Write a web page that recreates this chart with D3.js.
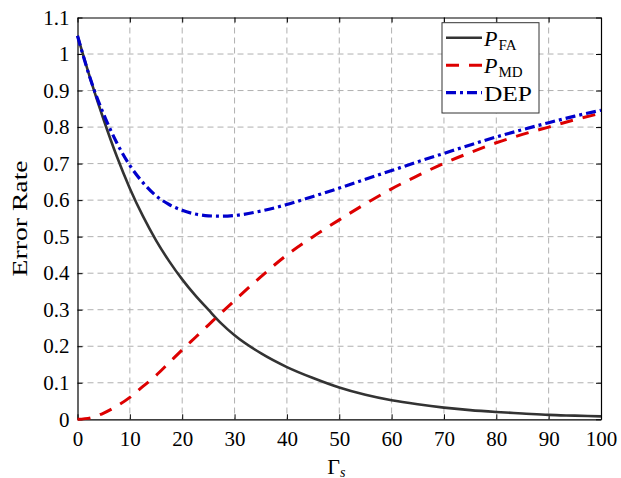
<!DOCTYPE html>
<html>
<head>
<meta charset="utf-8">
<script src="https://cdn.jsdelivr.net/npm/d3@7"></script>
<style>
  body { margin: 0; background: #fff; }
  text { font-family: "Liberation Serif", "Times New Roman", serif; fill: #000; }
</style>
</head>
<body>
<div id="wrapper"></div>
<script>
// data
const gammaValues = [0, 2.5, 5, 7.5, 10, 12.5, 15, 17.5, 20, 22.5, 25, 27.5, 30, 35, 40, 45, 50, 55, 60, 65, 70, 75, 80, 85, 90, 95, 100];
const pFA = [1.05, 0.93, 0.82, 0.72, 0.632, 0.556, 0.49, 0.433, 0.383, 0.339, 0.3, 0.262, 0.23, 0.181, 0.143, 0.113, 0.087, 0.067, 0.052, 0.041, 0.032, 0.025, 0.02, 0.016, 0.012, 0.01, 0.008];
const pMD = [0, 0.004, 0.017, 0.036, 0.06, 0.09, 0.12, 0.155, 0.19, 0.224, 0.258, 0.292, 0.325, 0.39, 0.45, 0.5, 0.546, 0.59, 0.631, 0.667, 0.701, 0.73, 0.757, 0.78, 0.8, 0.82, 0.838];
const dep = [1.05, 0.93, 0.835, 0.757, 0.695, 0.648, 0.612, 0.588, 0.572, 0.562, 0.557, 0.556, 0.558, 0.57, 0.588, 0.61, 0.633, 0.657, 0.681, 0.705, 0.728, 0.751, 0.773, 0.793, 0.812, 0.83, 0.846];

const xTicks = [0, 10, 20, 30, 40, 50, 60, 70, 80, 90, 100];
const yTicks = [0, 0.1, 0.2, 0.3, 0.4, 0.5, 0.6, 0.7, 0.8, 0.9, 1, 1.1];

const seriesList = [
  { name: "FA", values: pFA, color: "#333333", width: 2.6, dash: null },
  { name: "MD", values: pMD, color: "#dd0000", width: 3, dash: "13,10" },
  { name: "DEP", values: dep, color: "#0000cc", width: 3.2, dash: "10,4,3,4" },
];

function drawChart() {
  let dimensions = {
    width: 621,
    height: 478,
    margin: { top: 17.5, right: 20, bottom: 58.7, left: 77.5 },
  };
  dimensions.boundedWidth =
    dimensions.width - dimensions.margin.left - dimensions.margin.right;
  dimensions.boundedHeight =
    dimensions.height - dimensions.margin.top - dimensions.margin.bottom;

  const wrapper = d3
    .select("#wrapper")
    .append("svg")
    .attr("width", dimensions.width)
    .attr("height", dimensions.height);

  const bounds = wrapper
    .append("g")
    .attr("transform", `translate(${dimensions.margin.left},${dimensions.margin.top})`);

  const xScale = d3.scaleLinear().domain([0, 100]).range([0, dimensions.boundedWidth]);
  const yScale = d3.scaleLinear().domain([0, 1.1]).range([dimensions.boundedHeight, 0]);

  // grid
  bounds
    .selectAll(".grid-x")
    .data(xTicks.slice(1, -1))
    .join("line")
    .attr("x1", (d) => xScale(d))
    .attr("x2", (d) => xScale(d))
    .attr("y1", 0)
    .attr("y2", dimensions.boundedHeight)
    .attr("stroke", "#b0b0b0")
    .attr("stroke-width", 1)
    .attr("stroke-dasharray", "6,4");

  bounds
    .selectAll(".grid-y")
    .data(yTicks.slice(1, -1))
    .join("line")
    .attr("y1", (d) => yScale(d))
    .attr("y2", (d) => yScale(d))
    .attr("x1", 0)
    .attr("x2", dimensions.boundedWidth)
    .attr("stroke", "#b0b0b0")
    .attr("stroke-width", 1)
    .attr("stroke-dasharray", "6,4");

  // axes (ticks inside, box on)
  const xAxis = bounds
    .append("g")
    .attr("transform", `translate(0,${dimensions.boundedHeight})`)
    .call(d3.axisBottom(xScale).tickValues(xTicks).tickSizeInner(-5).tickSizeOuter(0).tickPadding(12));
  const xAxisTop = bounds
    .append("g")
    .call(d3.axisTop(xScale).tickValues(xTicks).tickSizeInner(-5).tickSizeOuter(0).tickFormat(""));
  const yAxis = bounds
    .append("g")
    .call(d3.axisLeft(yScale).tickValues(yTicks).tickSizeInner(-5).tickSizeOuter(0).tickPadding(8).tickFormat(d3.format("~g")));
  const yAxisRight = bounds
    .append("g")
    .attr("transform", `translate(${dimensions.boundedWidth},0)`)
    .call(d3.axisRight(yScale).tickValues(yTicks).tickSizeInner(-5).tickSizeOuter(0).tickFormat(""));

  [xAxis, xAxisTop, yAxis, yAxisRight].forEach((ax) => {
    ax.select(".domain").attr("stroke", "#000").attr("stroke-width", 1.2);
    ax.selectAll(".tick line").attr("stroke", "#000").attr("stroke-width", 1);
    ax.selectAll("text").attr("font-size", 21).attr("font-family", "Liberation Serif").attr("fill", "#000");
  });

  // lines
  const lineGenerator = (values) =>
    d3
      .line()
      .x((d, i) => xScale(gammaValues[i]))
      .y((d) => yScale(d))
      .curve(d3.curveMonotoneX)(values);

  bounds
    .selectAll(".series")
    .data(seriesList)
    .join("path")
    .attr("class", "series")
    .attr("d", (d) => lineGenerator(d.values))
    .attr("fill", "none")
    .attr("stroke", (d) => d.color)
    .attr("stroke-width", (d) => d.width)
    .attr("stroke-dasharray", (d) => d.dash);

  // labels
  wrapper
    .append("text")
    .attr("transform", `translate(27,${dimensions.margin.top + dimensions.boundedHeight / 2}) rotate(-90)`)
    .attr("text-anchor", "middle")
    .attr("font-size", 22)
    .attr("textLength", 116)
    .attr("lengthAdjust", "spacingAndGlyphs")
    .text("Error Rate");

  const xLabel = wrapper
    .append("text")
    .attr("x", dimensions.margin.left + dimensions.boundedWidth / 2 - 12)
    .attr("y", 474)
    .attr("font-size", 22);
  xLabel.append("tspan").text("Γ");
  xLabel.append("tspan").attr("font-size", 14).attr("font-style", "italic").attr("dy", 3).text("s");

  // legend
  const legend = bounds.append("g").attr("transform", "translate(364.5,5.2)");
  legend
    .append("rect")
    .attr("width", 97)
    .attr("height", 90.3)
    .attr("fill", "#fff")
    .attr("stroke", "#333")
    .attr("stroke-width", 1);

  const items = legend
    .selectAll(".item")
    .data(seriesList)
    .join("g")
    .attr("transform", (d, i) => `translate(0,${15 + i * 27.5})`);
  items
    .append("line")
    .attr("x1", 4)
    .attr("x2", 40)
    .attr("stroke", (d) => d.color)
    .attr("stroke-width", (d) => d.width)
    .attr("stroke-dasharray", (d) => d.dash);
  const itemText = items
    .append("text")
    .attr("x", 42)
    .attr("y", 8)
    .attr("font-size", 22);
  itemText.each(function (d) {
    const t = d3.select(this);
    if (d.name === "DEP") {
      t.attr("textLength", 48).attr("lengthAdjust", "spacingAndGlyphs").text("DEP");
    } else {
      t.append("tspan").attr("font-style", "italic").text("P");
      t.append("tspan").attr("font-size", 15).attr("dy", 4).attr("dx", 1).text(d.name);
    }
  });
}

drawChart();
</script>
</body>
</html>
